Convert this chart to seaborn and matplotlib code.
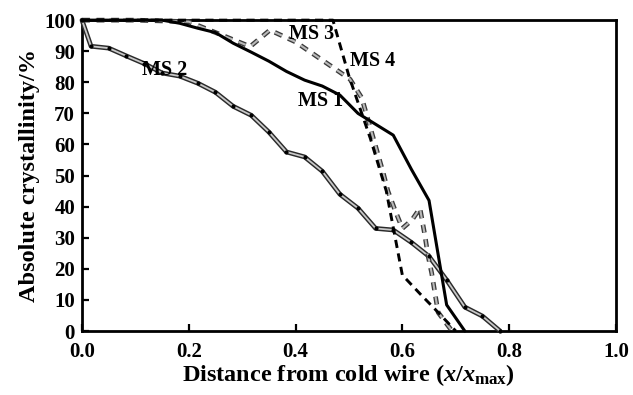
import numpy as np
import pandas as pd
import matplotlib
matplotlib.use("Agg")
import matplotlib.pyplot as plt
import matplotlib.patheffects as pe
import seaborn as sns

# ---- data ----
ms1_x = [0.0, 0.05, 0.10, 0.15, 0.183, 0.217, 0.25, 0.283, 0.317, 0.35, 0.383, 0.417,
         0.45, 0.483, 0.517, 0.55, 0.583, 0.617, 0.65, 0.683, 0.717]
ms1_y = [100, 100, 100, 100, 99, 97.4, 96, 92.6, 89.7, 86.8, 83.5, 80.7,
         78.8, 75.9, 70, 66.5, 63, 52, 42, 8.4, 0]

ms2_x = [0.0, 0.017, 0.05, 0.083, 0.117, 0.15, 0.183, 0.217, 0.25, 0.283, 0.317, 0.35,
         0.383, 0.417, 0.45, 0.483, 0.517, 0.55, 0.583, 0.617, 0.65, 0.683, 0.717,
         0.75, 0.783]
ms2_y = [100, 91.6, 91, 88.5, 86, 83, 82, 79.7, 76.8, 72.3, 69.4, 64,
         57.6, 56, 51.4, 44, 39.5, 33, 32.5, 28.5, 24, 16.4, 7.7,
         4.8, 0]

ms3_x = [0.0, 0.10, 0.20, 0.315, 0.352, 0.40, 0.464, 0.502, 0.524, 0.564, 0.573,
         0.586, 0.60, 0.618, 0.633, 0.642, 0.648, 0.655, 0.667, 0.693]
ms3_y = [100, 100, 99.5, 91.5, 96.8, 93, 85.5, 81, 75, 51, 45,
         39, 33, 35.7, 39.5, 31, 24.4, 18.6, 6, 0]

ms4_x = [0.0, 0.10, 0.20, 0.30, 0.40, 0.47, 0.50, 0.54, 0.57, 0.60, 0.633, 0.667, 0.70]
ms4_y = [100, 100, 100, 100, 100, 100, 82, 62, 45, 18, 12, 6, 0]

x_ticks = [0.0, 0.2, 0.4, 0.6, 0.8, 1.0]
y_ticks = [0, 10, 20, 30, 40, 50, 60, 70, 80, 90, 100]

labels = ["MS 1", "MS 2", "MS 3", "MS 4"]
label_pos = [(0.446, 74), (0.155, 84), (0.43, 95.5), (0.545, 87)]

# ---- style ----
sns.set_theme(style="white")
plt.rcParams["font.family"] = ["Liberation Serif", "DejaVu Serif"]
plt.rcParams["font.weight"] = "bold"
plt.rcParams["text.color"] = "black"
plt.rcParams["axes.labelcolor"] = "black"
plt.rcParams["mathtext.fontset"] = "custom"
plt.rcParams["mathtext.rm"] = "Liberation Serif:bold"
plt.rcParams["mathtext.it"] = "Liberation Serif:bold:italic"
plt.rcParams["mathtext.bf"] = "Liberation Serif:bold"

fig = plt.figure(figsize=(6.33, 3.95), dpi=100)
ax = fig.add_axes([0.1295, 0.162, 0.8435, 0.787])

df1 = pd.DataFrame({"x": ms1_x, "y": ms1_y})
df2 = pd.DataFrame({"x": ms2_x, "y": ms2_y})
df3 = pd.DataFrame({"x": ms3_x, "y": ms3_y})
df4 = pd.DataFrame({"x": ms4_x, "y": ms4_y})

# MS 2: gray double line with black dots
sns.lineplot(data=df2, x="x", y="y", ax=ax, color="#c8c8c8", lw=1.3, sort=False,
             path_effects=[pe.Stroke(linewidth=3.4, foreground="#2a2a2a"), pe.Normal()],
             clip_on=False, zorder=3)
sns.scatterplot(data=df2, x="x", y="y", ax=ax, color="black", s=9, linewidth=0,
                clip_on=False, zorder=4)

# MS 3: gray dashed line with dark outline
sns.lineplot(data=df3, x="x", y="y", ax=ax, color="#b8b8b8", lw=1.5, sort=False,
             linestyle=(0, (3.8, 3.2)),
             path_effects=[pe.Stroke(linewidth=3.4, foreground="#3a3a3a"), pe.Normal()],
             clip_on=False, zorder=3)

# MS 4: black dashed
sns.lineplot(data=df4, x="x", y="y", ax=ax, color="black", lw=2.1, sort=False,
             linestyle=(0, (2.8, 1.9)), clip_on=False, zorder=3)

# MS 1: thick black solid
sns.lineplot(data=df1, x="x", y="y", ax=ax, color="black", lw=2.2, sort=False,
             clip_on=False, zorder=5)

for lab, (lx, ly) in zip(labels, label_pos):
    ax.text(lx, ly, lab, fontsize=14.5, fontweight="bold", ha="center", va="center",
            color="black", zorder=6)

ax.set_xlim(0, 1.0)
ax.set_ylim(0, 100)
ax.set_xticks(x_ticks)
ax.set_xticklabels([f"{v:.1f}" for v in x_ticks])
ax.set_yticks(y_ticks)
ax.set_yticklabels([str(v) for v in y_ticks])
ax.tick_params(axis="both", direction="in", length=5, width=1.6, labelsize=15,
               colors="black", left=True, bottom=True, top=False, right=False)
for lbl in ax.get_xticklabels() + ax.get_yticklabels():
    lbl.set_fontweight("bold")
ax.tick_params(axis="x", pad=8)
ax.tick_params(axis="y", pad=5)

for s in ax.spines.values():
    s.set_linewidth(2.0)
    s.set_color("black")
    s.set_visible(True)

ax.set_xlabel(r"Distance from cold wire ($x$/$x_{\mathrm{max}}$)", fontsize=17.5,
              fontweight="bold", labelpad=0)
ax.set_ylabel("Absolute crystallinity/%", fontsize=17.5, fontweight="bold", labelpad=3)

fig.savefig("out.png", dpi=100)
